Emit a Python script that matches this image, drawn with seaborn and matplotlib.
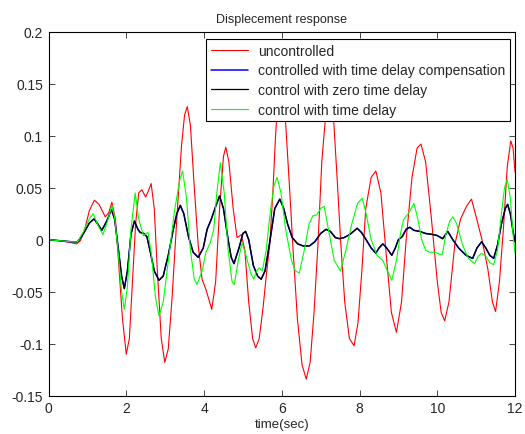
import matplotlib
matplotlib.use("Agg")
import matplotlib.pyplot as plt
import seaborn as sns
import numpy as np

# uncontrolled response
t_unc = [0, 0.3, 0.6, 0.72, 0.82, 0.92, 1.05, 1.18, 1.3, 1.46, 1.55, 1.63, 1.72, 1.8, 1.9,
         2.0, 2.08, 2.16, 2.24, 2.32, 2.4, 2.5, 2.58, 2.64, 2.72, 2.8, 2.9, 2.99,
         3.08, 3.18, 3.3, 3.42, 3.5, 3.57, 3.65, 3.75, 3.85, 3.95, 4.05, 4.2, 4.3,
         4.4, 4.5, 4.56, 4.64, 4.75, 4.85, 4.96, 5.05, 5.15, 5.25, 5.33, 5.42, 5.52,
         5.6, 5.69, 5.77, 5.84, 5.91, 5.97, 6.03, 6.1, 6.2, 6.29, 6.4, 6.52, 6.63,
         6.73, 6.83, 6.93, 7.03, 7.13, 7.23, 7.34, 7.43, 7.52, 7.62, 7.74, 7.86,
         7.96, 8.06, 8.16, 8.3, 8.42, 8.55, 8.7, 8.82, 8.95, 9.08, 9.2, 9.35, 9.48,
         9.58, 9.7, 9.85, 10.0, 10.1, 10.19, 10.3, 10.45, 10.6, 10.75, 10.88, 11.0,
         11.15, 11.3, 11.42, 11.5, 11.6, 11.7, 11.8, 11.89, 11.95, 12.0]
y_unc = [0, -0.001, -0.003, -0.004, -0.001, 0.008, 0.028, 0.038, 0.034, 0.022, 0.026, 0.036,
         0.020, -0.020, -0.075, -0.110, -0.095, -0.040, 0.015, 0.045, 0.048, 0.041,
         0.048, 0.054, 0.030, -0.030, -0.095, -0.118, -0.105, -0.055, 0.020, 0.090,
         0.120, 0.128, 0.110, 0.050, -0.005, -0.038, -0.048, -0.067, -0.040, 0.030,
         0.080, 0.089, 0.075, 0.030, 0.002, 0.005, -0.010, -0.060, -0.095, -0.104,
         -0.095, -0.065, -0.035, -0.005, 0.045, 0.100, 0.140, 0.155, 0.148, 0.112,
         0.050, -0.009, -0.075, -0.120, -0.134, -0.118, -0.070, -0.005, 0.075,
         0.120, 0.140, 0.112, 0.055, -0.005, -0.060, -0.095, -0.102, -0.080,
         -0.030, 0.030, 0.060, 0.066, 0.045, -0.020, -0.070, -0.089, -0.060, 0.000,
         0.060, 0.088, 0.092, 0.075, 0.020, -0.040, -0.070, -0.078, -0.060, -0.005,
         0.020, 0.032, 0.039, 0.022, 0.000, -0.028, -0.060, -0.069, -0.040, 0.010,
         0.070, 0.095, 0.088, 0.065]

# control with zero time delay (compensated case lies on top of it)
t_zero = [0, 0.3, 0.6, 0.75, 0.9, 1.05, 1.17, 1.27, 1.37, 1.5, 1.62, 1.7, 1.8, 1.88,
          1.95, 2.03, 2.12, 2.21, 2.3, 2.36, 2.45, 2.53, 2.62, 2.72, 2.84, 2.95,
          3.08, 3.2, 3.3, 3.39, 3.48, 3.6, 3.72, 3.85, 3.98, 4.08, 4.18, 4.3, 4.4,
          4.5, 4.62, 4.7, 4.77, 4.9, 5.0, 5.07, 5.15, 5.27, 5.38, 5.47, 5.57, 5.7,
          5.82, 5.95, 6.05, 6.15, 6.27, 6.41, 6.55, 6.71, 6.85, 7.0, 7.14, 7.25,
          7.38, 7.48, 7.6, 7.75, 7.94, 8.05, 8.17, 8.3, 8.42, 8.5, 8.6, 8.7, 8.83,
          8.92, 9.0, 9.1, 9.2, 9.29, 9.4, 9.55, 9.7, 9.89, 10.0, 10.14, 10.27, 10.4,
          10.55, 10.74, 10.91, 11.02, 11.14, 11.25, 11.35, 11.45, 11.55, 11.65,
          11.75, 11.81, 11.88, 11.95, 12.0]
y_zero = [0, -0.001, -0.002, -0.002, 0.006, 0.016, 0.020, 0.015, 0.009, 0.018,
          0.029, 0.020, -0.010, -0.035, -0.047, -0.030, 0.005, 0.018, 0.010, 0.007,
          0.006, 0.003, -0.012, -0.030, -0.039, -0.035, -0.015, 0.008, 0.025,
          0.033, 0.025, 0.003, -0.012, -0.017, -0.008, 0.010, 0.019, 0.032, 0.042,
          0.030, 0.000, -0.017, -0.023, -0.008, 0.006, 0.008, 0.000, -0.025,
          -0.035, -0.038, -0.030, 0.000, 0.030, 0.039, 0.030, 0.015, 0.002, -0.004,
          -0.006, -0.006, -0.002, 0.006, 0.010, 0.008, 0.002, 0.001, 0.002, 0.005,
          0.011, 0.007, 0.000, -0.008, -0.013, -0.008, -0.004, -0.008, -0.015,
          -0.008, 0.000, 0.003, 0.010, 0.012, 0.009, 0.008, 0.006, 0.005, 0.004,
          0.001, 0.008, 0.000, -0.008, -0.015, -0.018, -0.008, -0.002, -0.008,
          -0.015, -0.018, -0.005, 0.015, 0.030, 0.034, 0.025, 0.008, -0.002]

# control with time delay
t_delay = [0, 0.3, 0.6, 0.75, 0.9, 1.05, 1.15, 1.27, 1.4, 1.52, 1.63, 1.7, 1.8, 1.88,
           1.95, 2.03, 2.12, 2.23, 2.32, 2.44, 2.56, 2.65, 2.75, 2.84, 2.95, 3.1,
           3.25, 3.38, 3.45, 3.55, 3.65, 3.75, 3.82, 3.95, 4.05, 4.16, 4.25, 4.33,
           4.42, 4.52, 4.62, 4.72, 4.78, 4.88, 4.98, 5.08, 5.2, 5.28, 5.35, 5.42,
           5.5, 5.6, 5.7, 5.8, 5.88, 5.98, 6.1, 6.25, 6.35, 6.45, 6.58, 6.7, 6.8,
           6.9, 7.0, 7.09, 7.2, 7.35, 7.51, 7.65, 7.8, 7.95, 8.07, 8.17, 8.3, 8.45,
           8.6, 8.72, 8.83, 8.95, 9.05, 9.13, 9.25, 9.4, 9.5, 9.6, 9.7, 9.79, 9.95,
           10.05, 10.13, 10.22, 10.32, 10.4, 10.5, 10.65, 10.8, 10.96, 11.05, 11.14,
           11.25, 11.35, 11.45, 11.55, 11.65, 11.73, 11.8, 11.88, 11.95, 12.0]
y_delay = [0, -0.001, -0.002, -0.002, 0.008, 0.020, 0.025, 0.014, 0.005, 0.018,
           0.033, 0.022, -0.015, -0.050, -0.067, -0.045, 0.010, 0.045, 0.020, 0.004,
           0.007, -0.015, -0.055, -0.073, -0.060, -0.015, 0.030, 0.058, 0.066,
           0.040, -0.010, -0.038, -0.043, -0.030, -0.012, -0.003, 0.010, 0.045,
           0.074, 0.045, -0.010, -0.040, -0.043, -0.020, -0.003, -0.015, -0.032,
           -0.038, -0.030, -0.027, -0.030, -0.010, 0.025, 0.052, 0.060, 0.045,
           0.010, -0.020, -0.030, -0.032, -0.010, 0.015, 0.023, 0.024, 0.030,
           0.032, 0.010, -0.020, -0.030, -0.010, 0.015, 0.035, 0.040, 0.025, 0.000,
           -0.015, -0.020, -0.030, -0.039, -0.020, 0.005, 0.019, 0.025, 0.035,
           0.020, 0.000, -0.010, -0.012, -0.012, -0.014, -0.014, 0.005, 0.018,
           0.022, 0.015, -0.005, -0.018, -0.023, -0.016, -0.013, -0.016, -0.022,
           -0.024, -0.010, 0.025, 0.050, 0.058, 0.040, 0.005, -0.013]

yticks = [-0.15, -0.1, -0.05, 0, 0.05, 0.1, 0.15, 0.2]
ytick_labels = ["-0.15", "-0.1", "-0.05", "0", "0.05", "0.1", "0.15", "0.2"]
xticks = [0, 2, 4, 6, 8, 10, 12]

sns.set_style("white")
plt.rcParams['font.family'] = ['Liberation Sans', 'DejaVu Sans']

fig = plt.figure(figsize=(5.25, 4.35), dpi=100)
ax = fig.add_axes([0.0924, 0.088, 0.8886, 0.8368])

sns.lineplot(x=t_unc, y=y_unc, color='#ff0000', lw=0.8, estimator=None, sort=False,
             ax=ax, label='uncontrolled')
sns.lineplot(x=t_zero, y=y_zero, color='#0000ff', lw=1.1, estimator=None, sort=False,
             ax=ax, label='controlled with time delay compensation')
sns.lineplot(x=t_zero, y=y_zero, color='black', lw=0.9, estimator=None, sort=False,
             ax=ax, label='control with zero time delay')
sns.lineplot(x=t_delay, y=y_delay, color='#00ff00', lw=0.8, estimator=None, sort=False,
             ax=ax, label='control with time delay')

ax.set_xlim(0, 12)
ax.set_ylim(-0.15, 0.2)
ax.set_xticks(xticks)
ax.set_xticklabels([str(v) for v in xticks])
ax.set_yticks(yticks)
ax.set_yticklabels(ytick_labels)
ax.tick_params(direction='in', length=4, width=0.6, labelsize=10, top=True, right=True,
               bottom=True, left=True, pad=4)
for s in ax.spines.values():
    s.set_visible(True)
    s.set_color('black')
    s.set_linewidth(0.8)

ax.set_title('Displecement response', fontsize=9, pad=7)
ax.set_xlabel('time(sec)', fontsize=9.5, labelpad=2)
ax.set_ylabel('')

leg = ax.legend(loc='upper right', bbox_to_anchor=(0.989, 0.98), borderaxespad=0,
                fontsize=10, handlelength=2.7, handletextpad=0.7, labelspacing=0.4,
                frameon=True, fancybox=False, framealpha=1, edgecolor='black',
                borderpad=0.35)
leg.get_frame().set_linewidth(0.8)

fig.savefig('out.png', dpi=100, facecolor='white')
